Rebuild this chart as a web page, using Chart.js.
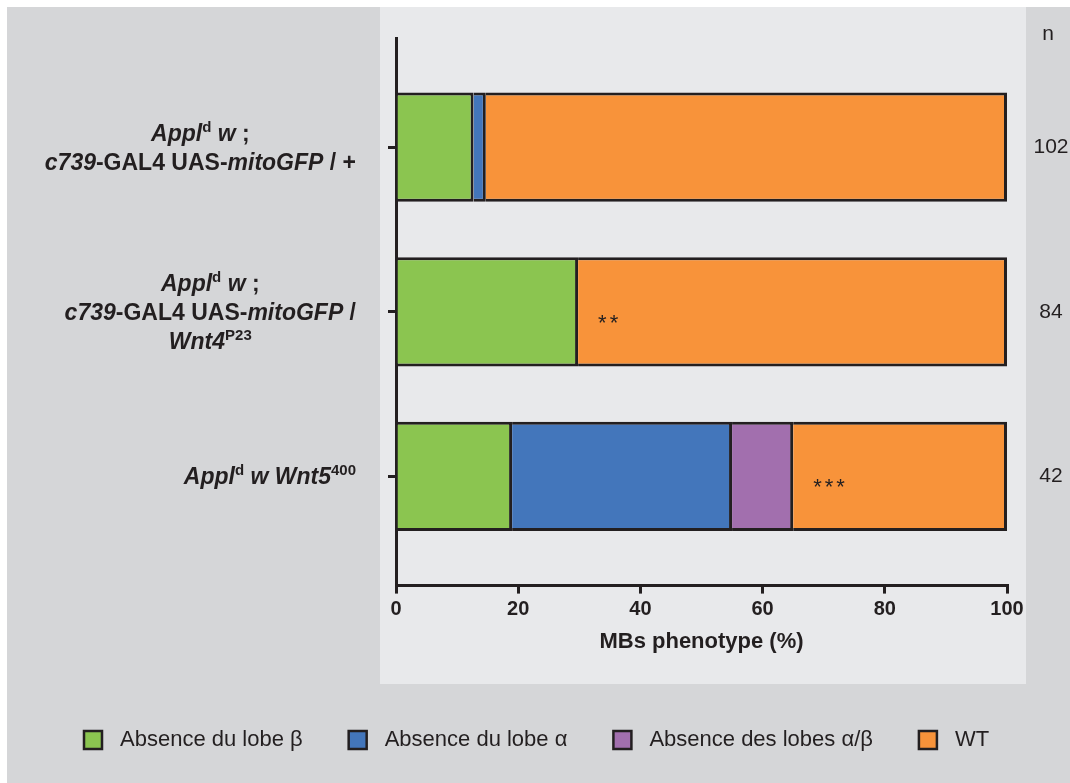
<!DOCTYPE html>
<html>
<head>
<meta charset="utf-8">
<script src="https://cdn.jsdelivr.net/npm/chart.js@4.4.1/dist/chart.umd.min.js"></script>
<style>
  html, body { margin: 0; padding: 0; background: #fff; }
  canvas { display: block; }
</style>
</head>
<body>
<canvas id="mbChart" width="1070" height="783"></canvas>
<script>
// genotypes, top to bottom (rich text: bi = bold italic, b = bold, sup = superscript)
const genotypeLabels = [
  [
    [['Appl', 'bi'], ['d', 'sup'], [' w', 'bi'], [' ;', 'b']],
    [['c739', 'bi'], ['-GAL4 UAS-', 'b'], ['mitoGFP', 'bi'], [' / +', 'b']]
  ],
  [
    [['Appl', 'bi'], ['d', 'sup'], [' w', 'bi'], [' ;', 'b']],
    [['c739', 'bi'], ['-GAL4 UAS-', 'b'], ['mitoGFP', 'bi'], [' /', 'b']],
    [['Wnt4', 'bi'], ['P23', 'sup']]
  ],
  [
    [['Appl', 'bi'], ['d', 'sup'], [' w Wnt5', 'bi'], ['400', 'sup']]
  ]
];

// % of brains per phenotype
const absenceBeta = [12.7, 29.8, 19];
const absenceAlpha = [2, 0, 36];
const absenceAlphaBeta = [0, 0, 10];
const wildType = [85.3, 70.2, 35];

const nCounts = ['102', '84', '42'];
const signif = ['', '**', '***'];
const xTicks = [0, 20, 40, 60, 80, 100];

const seriesNames = ['Absence du lobe β', 'Absence du lobe α', 'Absence des lobes α/β', 'WT'];
const seriesColors = ['#8bc550', '#4376bb', '#a26fae', '#f8933a'];

const INK = '#231f20';
const FONT = '"Liberation Sans", Arial, Helvetica, sans-serif';

function fontFor(style, size) {
  if (style === 'bi') return `italic bold ${size}px ${FONT}`;
  if (style === 'sup') return `bold ${Math.round(size * 0.64)}px ${FONT}`;
  return `bold ${size}px ${FONT}`;
}

function runWidth(ctx, runs, size) {
  let w = 0;
  runs.forEach(r => { ctx.font = fontFor(r[1], size); w += ctx.measureText(r[0]).width; });
  return w;
}

const backgroundPlugin = {
  id: 'panels',
  beforeDraw(chart) {
    const ctx = chart.ctx;
    ctx.save();
    ctx.fillStyle = '#ffffff';
    ctx.fillRect(0, 0, chart.width, chart.height);
    ctx.fillStyle = '#d5d6d8';
    ctx.fillRect(7, 7, chart.width - 7, chart.height - 7);
    ctx.fillStyle = '#e8e9eb';
    ctx.fillRect(380, 7, 646, 677);
    ctx.restore();
  }
};

const annotationsPlugin = {
  id: 'annotations',
  afterDraw(chart) {
    const ctx = chart.ctx;
    const area = chart.chartArea;
    const xs = chart.scales.x;
    const ys = chart.scales.y;
    const size = 23;
    const lineGap = 29;
    ctx.save();
    ctx.fillStyle = INK;
    ctx.textBaseline = 'alphabetic';
    ctx.textAlign = 'left';

    // genotype labels
    const rightEdge = area.left - 40;
    genotypeLabels.forEach((lines, i) => {
      const cy = ys.getPixelForValue(i);
      const widths = lines.map(l => runWidth(ctx, l, size));
      const blockW = Math.max(...widths);
      const cx = rightEdge - blockW / 2;
      const top = cy - (lines.length - 1) * lineGap / 2;
      lines.forEach((runs, j) => {
        let x = cx - widths[j] / 2;
        const base = top + j * lineGap + 8;
        runs.forEach(r => {
          ctx.font = fontFor(r[1], size);
          ctx.fillText(r[0], x, r[1] === 'sup' ? base - 9 : base);
          x += ctx.measureText(r[0]).width;
        });
      });
    });

    // n column
    ctx.font = `21px ${FONT}`;
    ctx.textAlign = 'center';
    ctx.textBaseline = 'middle';
    const nx = area.right + 44;
    ctx.fillText('n', nx - 3, area.top - 4);
    nCounts.forEach((n, i) => ctx.fillText(n, nx, ys.getPixelForValue(i)));

    // significance stars, just inside the WT segment
    ctx.font = `22px ${FONT}`;
    ctx.textAlign = 'left';
    ctx.textBaseline = 'alphabetic';
    ctx.letterSpacing = '3px';
    signif.forEach((s, i) => {
      if (!s) return;
      const x = xs.getPixelForValue(100 - wildType[i]) + 20;
      ctx.fillText(s, x, ys.getPixelForValue(i) + 18);
    });
    ctx.letterSpacing = '0px';

    // legend
    ctx.font = `22px ${FONT}`;
    ctx.textBaseline = 'middle';
    let lx = 84;
    const ly = 740;
    seriesNames.forEach((name, k) => {
      ctx.fillStyle = seriesColors[k];
      ctx.fillRect(lx, ly - 9, 18, 18);
      ctx.strokeStyle = INK;
      ctx.lineWidth = 2.5;
      ctx.strokeRect(lx, ly - 9, 18, 18);
      ctx.fillStyle = INK;
      ctx.fillText(name, lx + 36, ly);
      lx += 36 + ctx.measureText(name).width + 46;
    });
    ctx.restore();
  }
};

function seriesData(values) {
  return values.map((v, i) => ({ x: v, y: i }));
}

const datasets = [absenceBeta, absenceAlpha, absenceAlphaBeta, wildType].map((vals, k) => ({
  label: seriesNames[k],
  data: seriesData(vals),
  backgroundColor: seriesColors[k],
  borderColor: INK,
  borderWidth: 3,
  categoryPercentage: 1,
  barPercentage: 0.663
}));

new Chart(document.getElementById('mbChart'), {
  type: 'bar',
  data: { datasets: datasets },
  options: {
    indexAxis: 'y',
    responsive: false,
    animation: false,
    devicePixelRatio: 1,
    layout: { padding: { left: 388, right: 63, top: 38, bottom: 128 } },
    plugins: {
      legend: { display: false },
      tooltip: { enabled: false }
    },
    scales: {
      x: {
        type: 'linear',
        stacked: true,
        min: 0,
        max: 100,
        afterBuildTicks: s => { s.ticks = xTicks.map(v => ({ value: v })); },
        ticks: { color: INK, padding: 4, font: { family: FONT, size: 20, weight: 'bold' } },
        grid: { drawOnChartArea: false, tickLength: 8, lineWidth: 3, color: INK },
        border: { display: true, width: 3, color: INK },
        title: {
          display: true,
          text: 'MBs phenotype (%)',
          color: INK,
          font: { family: FONT, size: 22, weight: 'bold' },
          padding: { top: 3, bottom: 0 }
        }
      },
      y: {
        type: 'linear',
        stacked: true,
        reverse: true,
        offset: false,
        min: -0.663,
        max: 2.663,
        afterBuildTicks: s => { s.ticks = genotypeLabels.map((_, i) => ({ value: i })); },
        ticks: { display: false },
        grid: { offset: false, drawOnChartArea: false, tickLength: 8, lineWidth: 3, color: INK },
        border: { display: true, width: 3, color: INK }
      }
    }
  },
  plugins: [backgroundPlugin, annotationsPlugin]
});
</script>
</body>
</html>
